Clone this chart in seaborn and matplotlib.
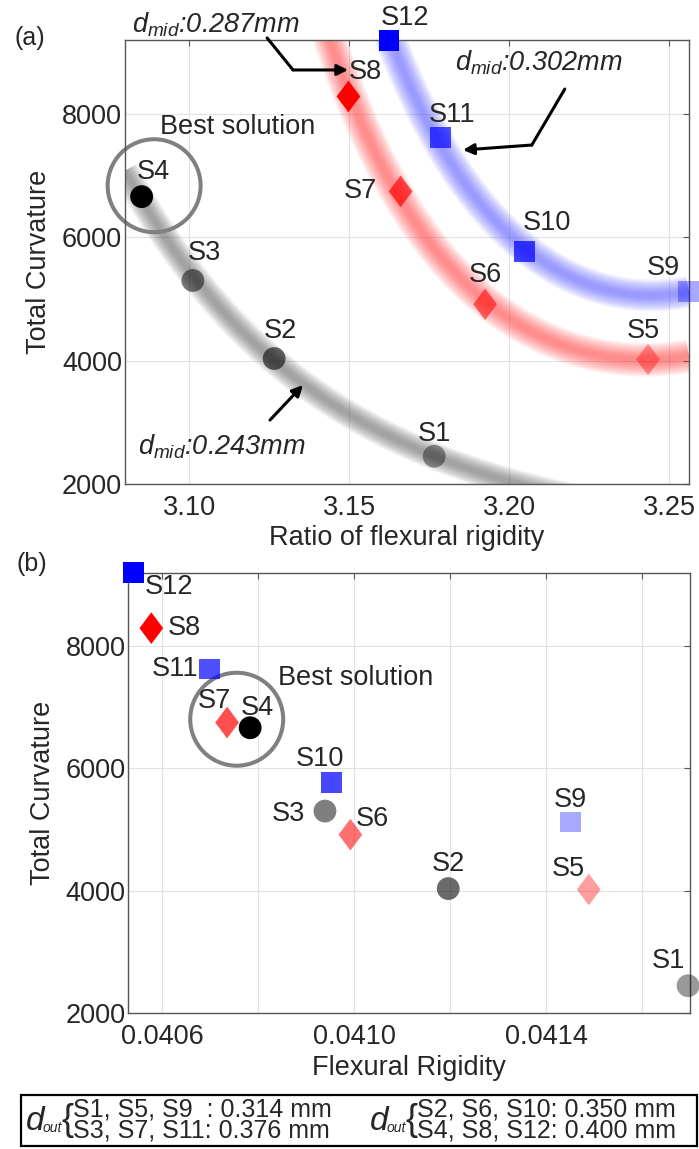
import matplotlib
matplotlib.use("Agg")
import matplotlib.pyplot as plt
from matplotlib.colors import to_rgba
from matplotlib.patches import Rectangle
import numpy as np
import pandas as pd
import seaborn as sns

# data
names = ['S1', 'S2', 'S3', 'S4', 'S5', 'S6', 'S7', 'S8', 'S9', 'S10', 'S11', 'S12']
ratio = [3.1766, 3.1266, 3.1012, 3.0852, 3.2434, 3.1925, 3.1661, 3.1498,
         3.2560, 3.2049, 3.1786, 3.1625]
rigidity = [0.041696, 0.041196, 0.040939, 0.040783, 0.041489, 0.040992,
            0.040735, 0.040577, 0.041451, 0.040953, 0.040698, 0.040540]
curvature = [2450, 4035, 5300, 6660, 4020, 4915, 6745, 8285, 5125, 5768, 7620, 9195]
d_mid = [0.243, 0.243, 0.243, 0.243, 0.287, 0.287, 0.287, 0.287,
         0.302, 0.302, 0.302, 0.302]
d_out = [0.314, 0.350, 0.376, 0.400, 0.314, 0.350, 0.376, 0.400,
         0.314, 0.350, 0.376, 0.400]

ratio_ticks = [3.10, 3.15, 3.20, 3.25]
rigidity_ticks = [0.0406, 0.0408, 0.0410, 0.0412, 0.0414, 0.0416]
rigidity_ticklabels = ['0.0406', '', '0.0410', '', '0.0414', '']
curv_ticks = [2000, 4000, 6000, 8000]

legend_left = ['S1, S5, S9  : 0.314 mm', 'S3, S7, S11: 0.376 mm']
legend_right = ['S2, S6, S10: 0.350 mm', 'S4, S8, S12: 0.400 mm']

df = pd.DataFrame({'name': names, 'ratio': ratio, 'rigidity': rigidity,
                   'curvature': curvature, 'd_mid': d_mid, 'd_out': d_out})
df['mid'] = [f'{v:.3f}' for v in d_mid]

# styles
family_color = {'0.243': '#000000', '0.287': '#ff0000', '0.302': '#0000ff'}
point_alpha = [0.40, 0.58, 0.50, 1.0, 0.38, 0.56, 0.69, 1.0, 0.34, 0.72, 0.69, 1.0]
family_marker = {'0.243': 'o',
                 '0.287': [(0, 1), (0.75, 0), (0, -1), (-0.75, 0), (0, 1)],
                 '0.302': 's'}
family_size = {'0.243': 270, '0.287': 520, '0.302': 220}
band_color = {'0.243': '#606060', '0.287': '#ff3333', '0.302': '#4d4dff'}
band_width = {'0.243': 18, '0.287': 22, '0.302': 21}
band_alpha = {'0.243': 0.08, '0.287': 0.075, '0.302': 0.075}
n_layers = 10
point_colors = {n: to_rgba(family_color[m], a)
                for n, m, a in zip(names, df['mid'], point_alpha)}

offsets_a = [(0, -22), (6, -28), (12, -28), (12, -25), (-5, -28), (0, -29),
             (-40, 0), (17, -24), (-25, -23), (22, -29), (11, -22), (16, -22)]
offsets_b = [(-20, -25), (0, -25), (-37, 3), (7, -20), (-20, -21), (22, -16),
             (-13, -22), (33, 0), (0, -22), (-12, -23), (-34, 0), (35, 15)]

sns.set_theme(style='white')
plt.rcParams['font.family'] = ['Liberation Sans', 'DejaVu Sans']
plt.rcParams['mathtext.fontset'] = 'custom'
plt.rcParams['mathtext.it'] = 'Liberation Sans:italic'
plt.rcParams['mathtext.rm'] = 'Liberation Sans'

FS = 19.5
W, H = 699, 1149
fig = plt.figure(figsize=(W / 100, H / 100), dpi=100)
ax_a = fig.add_axes([125 / W, 1 - 484 / H, 564 / W, 444 / H])
ax_b = fig.add_axes([128.3 / W, 1 - 1013.3 / H, 561.7 / W, 440.6 / H])

xlim_a, ylim_a = (3.080, 3.2562), (2000, 9200)
xlim_b, ylim_b = (0.040529, 0.04170), (2000, 9190)

# soft trend bands in panel (a): log-quadratic fit per d_mid family
for mid, sub in df.groupby('mid'):
    coef = np.polyfit(sub['ratio'], np.log(sub['curvature']), 2)
    grid = np.linspace(xlim_a[0], xlim_a[1], 200)
    fit = pd.DataFrame({'ratio': grid, 'curvature': np.exp(np.polyval(coef, grid))})
    for k in range(n_layers):
        lw = band_width[mid] * (1 - k / n_layers) + 2
        sns.lineplot(data=fit, x='ratio', y='curvature', ax=ax_a, color=band_color[mid],
                     lw=lw, alpha=band_alpha[mid], estimator=None, sort=False,
                     solid_capstyle='butt', zorder=1, legend=False)

ax_a.set_xlim(*xlim_a)
ax_a.set_ylim(*ylim_a)
ax_b.set_xlim(*xlim_b)
ax_b.set_ylim(*ylim_b)

for ax, xcol, offsets in [(ax_a, 'ratio', offsets_a), (ax_b, 'rigidity', offsets_b)]:
    sns.scatterplot(data=df, x=xcol, y='curvature', hue='name', palette=point_colors,
                    style='mid', markers=family_marker, size='mid', sizes=family_size,
                    linewidth=0, legend=False, ax=ax, zorder=3, clip_on=False)
    for name, x, y, (dx, dy) in zip(names, df[xcol], df['curvature'], offsets):
        ax.annotate(name, (x, y), xytext=(dx * 0.72, -dy * 0.72),
                    textcoords='offset points', ha='center', va='center',
                    fontsize=FS, annotation_clip=False, zorder=4)
    ax.grid(True, color='#e2e2e2', lw=0.8)
    ax.set_axisbelow(True)
    for sp in ax.spines.values():
        sp.set_color('#555555')
        sp.set_linewidth(1.0)
    ax.tick_params(direction='in', top=True, right=True, length=4, width=0.8,
                   color='#555555', labelsize=FS, pad=2)
    ax.tick_params(axis='x', pad=8)
    ax.set_yticks(curv_ticks)
    ax.set_ylabel('Total Curvature', fontsize=FS, labelpad=7)

ax_a.set_xticks(ratio_ticks)
ax_a.set_xticklabels([f'{t:.2f}' for t in ratio_ticks])
ax_a.set_xlabel('Ratio of flexural rigidity', fontsize=FS, labelpad=3)
ax_b.set_xticks(rigidity_ticks)
ax_b.set_xticklabels(rigidity_ticklabels)
ax_b.set_xlabel('Flexural Rigidity', fontsize=FS, labelpad=3)

# best-solution rings
ax_a.scatter([3.0891], [6837], s=4480, facecolors='none', edgecolors='#808080',
             linewidths=2.9, zorder=2, clip_on=False)
ax_a.text(3.0909, 7789, 'Best solution', fontsize=FS, ha='left', va='center')
ax_b.scatter([0.040755], [6799], s=4480, facecolors='none', edgecolors='#808080',
             linewidths=2.9, zorder=2, clip_on=False)
ax_b.text(0.040841, 7468, 'Best solution', fontsize=FS, ha='left', va='center')

# d_mid callouts
callouts = [
    (r'$d_{mid}$:0.287mm', (3.0822, 9444), [(3.1244, 9233), (3.1325, 8714)], (3.1497, 8714)),
    (r'$d_{mid}$:0.302mm', (3.1831, 8827), [(3.2174, 8405), (3.2071, 7497)], (3.1856, 7416)),
    (r'$d_{mid}$:0.243mm', (3.0841, 2599), [(3.1253, 3037)], (3.1356, 3604)),
]
for label, tpos, path, tip in callouts:
    ax_a.text(tpos[0], tpos[1], label, fontsize=FS, style='italic',
              ha='left', va='center', clip_on=False)
    if len(path) > 1:
        ax_a.plot([p[0] for p in path], [p[1] for p in path], color='black',
                  lw=2.2, clip_on=False, zorder=5, solid_capstyle='round')
    ax_a.annotate('', xy=tip, xytext=path[-1], annotation_clip=False,
                  arrowprops=dict(arrowstyle='-|>', color='black', lw=2.2,
                                  mutation_scale=16, shrinkA=0, shrinkB=0),
                  zorder=5)

fig.text(30 / W, 1 - 38 / H, '(a)', fontsize=18, ha='center', va='center')
fig.text(32 / W, 1 - 564 / H, '(b)', fontsize=18, ha='center', va='center')

# d_out key box
fig.patches.append(Rectangle((20.7 / W, 1 - 1146 / H), 676 / W, 51 / H,
                             transform=fig.transFigure, fill=False,
                             edgecolor='black', lw=1.6))
for x0, rows in [(28, legend_left), (372, legend_right)]:
    fig.text((x0 - 2) / W, 1 - 1130 / H, 'd', fontsize=24, style='italic',
             ha='left', va='baseline')
    fig.text((x0 + 15) / W, 1 - 1132 / H, 'out', fontsize=10, style='italic',
             ha='left', va='baseline')
    fig.text((x0 + 33) / W, 1 - 1120 / H, '{', fontsize=26, ha='left', va='center')
    fig.text((x0 + 45) / W, 1 - 1120 / H, '\n'.join(rows), fontsize=18,
             ha='left', va='center', linespacing=0.87)

fig.savefig('out.png', dpi=100)
